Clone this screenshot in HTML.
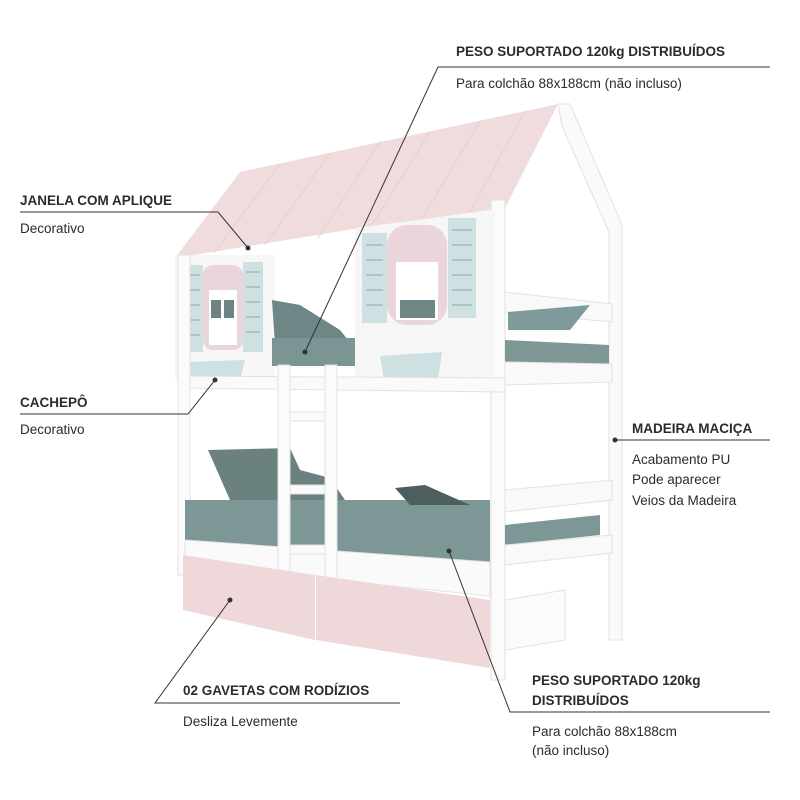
<!DOCTYPE html>
<html><head><meta charset="utf-8"><style>
html,body{margin:0;padding:0;background:#fff;}
svg{display:block;}
text{font-family:"Liberation Sans",sans-serif;fill:#2b2b2b;}
.h{font-weight:bold;font-size:13.5px;}
.r{font-size:13.5px;}
</style></head><body>
<svg width="800" height="800" viewBox="0 0 800 800" xmlns="http://www.w3.org/2000/svg">
<rect width="800" height="800" fill="#fff"/>
<!-- roof -->
<polygon points="240,172 558,104 505,208 360,228 175,258" fill="#f0dcdd"/>
<g stroke="#e6cdd0" stroke-width="1">
<line x1="280" y1="164" x2="215" y2="252"/><line x1="330" y1="153" x2="265" y2="245"/><line x1="380" y1="142" x2="318" y2="238"/><line x1="430" y1="132" x2="370" y2="228"/><line x1="480" y1="121" x2="420" y2="222"/><line x1="525" y1="111" x2="470" y2="212"/>
</g>
<!-- gable frame -->
<polygon points="558,104 570,104 622,225 622,640 609,640 609,232 562,126" fill="#fafafa" stroke="#e2e2e2"/>
<!-- right side posts -->
<rect x="491" y="200" width="14" height="480" fill="#fbfbfb" stroke="#e0e0e0"/>
<!-- upper side rails -->
<polygon points="505,292 612,304 612,322 505,312" fill="#f9f9f9" stroke="#e2e2e2"/>
<polygon points="508,312 590,305 570,330 508,330" fill="#7f9a9a"/>
<polygon points="505,340 609,345 609,364 505,362" fill="#7f9896"/>
<polygon points="505,362 612,364 612,382 505,385" fill="#f9f9f9" stroke="#e2e2e2"/>
<!-- left upper wall -->
<rect x="175" y="255" width="100" height="125" fill="#f7f7f7"/>
<rect x="183" y="265" width="20" height="87" fill="#cfe0e2"/>
<rect x="243" y="262" width="20" height="90" fill="#cfe0e2"/>
<g stroke="#8fa3a6" stroke-width="1">
<line x1="186" y1="275" x2="200" y2="275"/><line x1="186" y1="290" x2="200" y2="290"/><line x1="186" y1="305" x2="200" y2="305"/><line x1="186" y1="320" x2="200" y2="320"/><line x1="186" y1="335" x2="200" y2="335"/>
<line x1="246" y1="272" x2="260" y2="272"/><line x1="246" y1="287" x2="260" y2="287"/><line x1="246" y1="302" x2="260" y2="302"/><line x1="246" y1="317" x2="260" y2="317"/><line x1="246" y1="332" x2="260" y2="332"/>
</g>
<rect x="203" y="265" width="40" height="85" fill="#ead6da" rx="10"/>
<rect x="209" y="290" width="28" height="55" fill="#fff"/>
<rect x="211" y="300" width="10" height="18" fill="#6e8483"/><rect x="224" y="300" width="10" height="18" fill="#6e8483"/>
<polygon points="188,362 245,360 240,380 192,380" fill="#cfe0e2"/>
<!-- opening with mattress -->
<polygon points="275,255 300,240 345,325 345,345 275,345" fill="#fff"/>
<polygon points="272,300 300,305 340,330 352,345 275,345" fill="#6e8685"/>
<rect x="272" y="338" width="85" height="28" fill="#7b9594"/>
<!-- right upper wall -->
<polygon points="355,228 495,210 495,380 355,380" fill="#f6f6f6"/>
<rect x="362" y="233" width="25" height="90" fill="#cfe0e2"/>
<rect x="448" y="218" width="28" height="100" fill="#cfe0e2"/>
<g stroke="#8fa3a6" stroke-width="1">
<line x1="366" y1="245" x2="383" y2="245"/><line x1="366" y1="260" x2="383" y2="260"/><line x1="366" y1="275" x2="383" y2="275"/><line x1="366" y1="290" x2="383" y2="290"/><line x1="366" y1="305" x2="383" y2="305"/>
<line x1="452" y1="230" x2="472" y2="230"/><line x1="452" y1="245" x2="472" y2="245"/><line x1="452" y1="260" x2="472" y2="260"/><line x1="452" y1="275" x2="472" y2="275"/><line x1="452" y1="290" x2="472" y2="290"/><line x1="452" y1="305" x2="472" y2="305"/>
</g>
<rect x="387" y="225" width="60" height="100" fill="#ead6da" rx="20"/>
<rect x="396" y="262" width="42" height="58" fill="#fff"/>
<rect x="400" y="300" width="35" height="18" fill="#6e8685"/>
<polygon points="380,356 442,352 438,380 384,380" fill="#cfe0e2"/>
<!-- upper front rail -->
<polygon points="178,376 505,378 505,392 178,388" fill="#fafafa" stroke="#e2e2e2"/>
<!-- posts -->
<rect x="178" y="255" width="12" height="320" fill="#fbfbfb" stroke="#e0e0e0"/>
<!-- lower bed -->
<polygon points="208,450 290,448 300,470 330,478 345,500 230,500" fill="#6a8180"/>
<polygon points="185,500 490,500 490,565 185,545" fill="#7d9796"/>
<polygon points="395,488 425,485 470,505 410,505" fill="#4d5e5e"/>
<!-- lower side rails -->
<polygon points="505,490 612,480 612,500 505,512" fill="#f9f9f9" stroke="#e2e2e2"/>
<polygon points="505,525 600,515 600,535 505,545" fill="#7d9796"/>
<polygon points="505,545 612,535 612,553 505,565" fill="#f9f9f9" stroke="#e2e2e2"/>
<!-- lower front rail -->
<polygon points="185,540 490,562 490,596 185,565" fill="#fafafa" stroke="#e2e2e2"/>
<!-- ladder -->
<rect x="278" y="365" width="12" height="210" fill="#fbfbfb" stroke="#e0e0e0"/>
<rect x="325" y="365" width="12" height="215" fill="#fbfbfb" stroke="#e0e0e0"/>
<rect x="290" y="412" width="35" height="9" fill="#fafafa" stroke="#e2e2e2"/>
<rect x="290" y="485" width="35" height="9" fill="#fafafa" stroke="#e2e2e2"/>
<rect x="290" y="545" width="35" height="9" fill="#fafafa" stroke="#e2e2e2"/>
<!-- drawers -->
<polygon points="183,555 315,575 315,640 183,610" fill="#eed8da"/>
<polygon points="316,575 490,600 490,668 316,640" fill="#eed8da"/>
<polygon points="505,600 565,590 565,640 505,650" fill="#fbfbfb" stroke="#e2e2e2"/>
<!-- leader lines -->
<g stroke="#333" stroke-width="1" fill="none">
<polyline points="770,67 438,67 305,352"/>
<polyline points="20,212 218,212 248,248"/>
<polyline points="20,414 188,414 215,380"/>
<line x1="615" y1="440" x2="770" y2="440"/>
<polyline points="400,703 155,703 230,600"/>
<polyline points="770,712 510,712 449,551"/>
</g>
<g fill="#333">
<circle cx="305" cy="352" r="2.5"/><circle cx="248" cy="248" r="2.5"/><circle cx="215" cy="380" r="2.5"/>
<circle cx="615" cy="440" r="2.5"/><circle cx="230" cy="600" r="2.5"/><circle cx="449" cy="551" r="2.5"/>
</g>
<!-- labels -->
<text class="h" x="456" y="56">PESO SUPORTADO 120kg DISTRIBUÍDOS</text>
<text class="r" x="456" y="88">Para colchão 88x188cm (não incluso)</text>
<text class="h" x="20" y="205">JANELA COM APLIQUE</text>
<text class="r" x="20" y="233">Decorativo</text>
<text class="h" x="20" y="407">CACHEPÔ</text>
<text class="r" x="20" y="434">Decorativo</text>
<text class="h" x="632" y="433">MADEIRA MACIÇA</text>
<text class="r" x="632" y="464">Acabamento PU</text>
<text class="r" x="632" y="484">Pode aparecer</text>
<text class="r" x="632" y="505">Veios da Madeira</text>
<text class="h" x="183" y="695">02 GAVETAS COM RODÍZIOS</text>
<text class="r" x="183" y="726">Desliza Levemente</text>
<text class="h" x="532" y="685">PESO SUPORTADO 120kg</text>
<text class="h" x="532" y="705">DISTRIBUÍDOS</text>
<text class="r" x="532" y="736">Para colchão 88x188cm</text>
<text class="r" x="532" y="755">(não incluso)</text>
</svg>
</body></html>
